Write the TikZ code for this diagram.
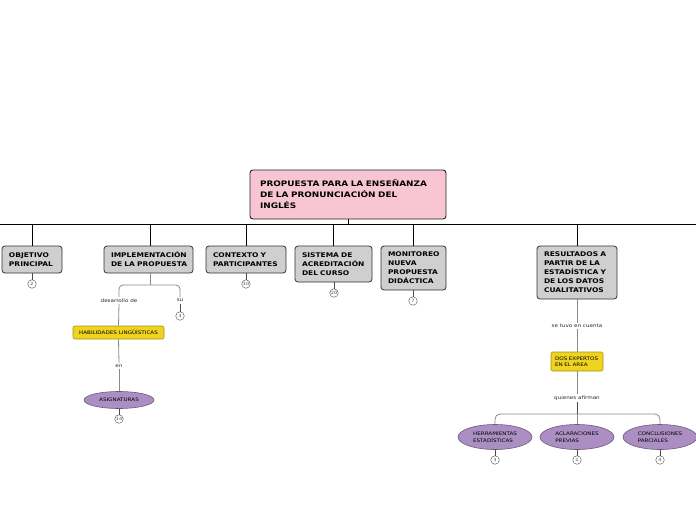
\documentclass[tikz,border=0pt]{standalone}
\usepackage{fontspec}
\newfontfamily\vb[FakeStretch=1.17]{DejaVu Sans}
\usetikzlibrary{shapes.geometric}
\hyphenpenalty=10000
\exhyphenpenalty=10000
\definecolor{pinkf}{HTML}{F8C6D3}
\definecolor{grayf}{HTML}{CFCFCF}
\definecolor{yelf}{HTML}{EED321}
\definecolor{yeld}{HTML}{A89410}
\definecolor{purf}{HTML}{AB8EC2}
\definecolor{purd}{HTML}{6E5A80}
\definecolor{lineg}{HTML}{8A8A8A}
\tikzset{
  rootbox/.style={draw=black!85, line width=0.9pt, fill=pinkf, rounded corners=3pt,
    minimum width=196pt, minimum height=49pt, text width=176pt, align=left,
    font=\vb\bfseries\fontsize{7.6}{11}\selectfont, inner sep=0pt},
  topbox/.style={draw=black!80, line width=0.8pt, fill=grayf, rounded corners=3pt,
    align=left, font=\vb\bfseries\fontsize{6.4}{9}\selectfont, inner sep=0pt},
  yelbox/.style={draw=yeld, line width=0.6pt, fill=yelf, rounded corners=2pt,
    align=left, font=\vb\fontsize{4.8}{6.5}\selectfont, inner sep=0pt},
  oval/.style={ellipse, draw=purd, line width=0.6pt, fill=purf, inner sep=0pt,
    align=left, font=\vb\fontsize{4.8}{6.5}\selectfont},
  cnt/.style={circle, draw=black!60, fill=white, line width=0.5pt, minimum size=8.5pt,
    inner sep=0pt, font=\vb\fontsize{4.3}{5}\selectfont, text=black!70},
  lab/.style={font=\vb\fontsize{4.8}{6}\selectfont, inner sep=1.5pt, text=black!85},
  bus/.style={draw=black, line width=0.8pt},
  gl/.style={draw=lineg, line width=0.8pt},
  dl/.style={draw=black!70, line width=0.6pt},
}
\begin{document}
\begin{tikzpicture}[x=1pt,y=-1pt]
\useasboundingbox[fill=white] (0,0) rectangle (696,520);
% root
\node[rootbox] (root) at (348,194.5) {PROPUESTA PARA LA ENSEÑANZA\\DE LA PRONUNCIACIÓN DEL\\INGLÉS};
\coordinate (busL) at (0,224);
\coordinate (busR) at (696,224);
\coordinate (busC) at (root.south |- busL);
\draw[bus] (busL) -- (busR);
\draw[bus] (root.south) -- (busC);
% top boxes
\node[topbox, minimum width=60pt, minimum height=27pt, text width=46pt] (obj) at (32,259.5) {OBJETIVO\\PRINCIPAL};
\node[topbox, minimum width=89pt, minimum height=27pt, text width=75pt] (impl) at (148.5,259.5) {IMPLEMENTACIÓN\\DE~LA~PROPUESTA};
\node[topbox, minimum width=80pt, minimum height=27pt, text width=66pt] (ctx) at (246,259.5) {CONTEXTO Y\\PARTICIPANTES};
\node[topbox, minimum width=77pt, minimum height=36pt, text width=63pt] (sis) at (333.5,264) {SISTEMA DE\\ACREDITACIÓN\\DEL CURSO};
\node[topbox, minimum width=65pt, minimum height=44pt, text width=51pt] (mon) at (413.5,268) {MONITOREO\\NUEVA\\PROPUESTA\\DIDÁCTICA};
\node[topbox, minimum width=80pt, minimum height=53pt, text width=66pt] (res) at (577,272.5) {RESULTADOS A\\PARTIR DE LA\\ESTADÍSTICA Y\\DE LOS DATOS\\CUALITATIVOS};
\foreach \n in {obj,ctx,sis,mon,res}{
  \draw[bus] (\n.north |- busL) -- (\n.north);
}
\draw[bus] (150,224) -- (150,246);
% counters under top boxes
\node[cnt] (c_obj) at (32,284) {2};
\node[cnt] (c_ctx) at (246,284) {10};
\node[cnt] (c_sis) at (334,293) {20};
\node[cnt] (c_mon) at (413,301) {7};
\draw[dl] (obj.south) -- (c_obj.north);
\draw[dl] (ctx.south) -- (c_ctx.north);
\draw[dl] (sis.south -| c_sis) -- (c_sis.north);
\draw[dl] (mon.south -| c_mon) -- (c_mon.north);
% implementation branch
\coordinate (brk) at (150,285);
\node[lab] (des) at (119,300.5) {desarrollo de};
\node[lab] (su) at (180,300.5) {su};
\draw[gl] (150,273) -- (brk);
\draw[gl, rounded corners=4pt] (des.north) |- (brk) -| (su.north);
\node[cnt] (c_su) at (180,316) {3};
\draw[dl] (su.south) -- (c_su.north);
\node[yelbox, minimum width=91pt, minimum height=13pt, align=center] (hab) at (118.5,332.5) {HABILIDADES LINGÜÍSTICAS};
\draw[gl] (des.south) -- (hab.north);
\node[lab] (en) at (119,366) {en};
\draw[gl] (hab.south) -- (en.north);
\node[oval, minimum width=70pt, minimum height=17pt, align=center] (asi) at (119,400) {ASIGNATURAS};
\draw[gl] (en.south) -- (asi.north);
\node[cnt] (c_asi) at (119,419) {14};
\draw[dl] (asi.south) -- (c_asi.north);
% results branch
\node[lab] (tuvo) at (577,326) {se tuvo en cuenta};
\draw[gl] (res.south) -- (tuvo.north);
\node[yelbox, minimum width=52pt, minimum height=19pt, text width=44pt] (dos) at (577,361.5) {DOS EXPERTOS\\EN EL AREA};
\draw[gl] (tuvo.south) -- (dos.north);
\node[lab] (qui) at (577,398) {quienes afirman};
\draw[gl] (dos.south) -- (qui.north);
\coordinate (brk2) at (577,414);
\draw[dl] (qui.south) -- (brk2);
\node[oval, minimum width=74pt, minimum height=25pt] (her) at (495,437) {HERRAMIENTAS\\ESTADÍSTICAS};
\node[oval, minimum width=74pt, minimum height=25pt] (acl) at (577,437) {ACLARACIONES\\PREVIAS};
\node[oval, minimum width=74pt, minimum height=25pt] (con) at (660,437) {CONCLUSIONES\\PARCIALES};
\draw[gl, rounded corners=5pt] (her.north) |- (brk2) -| (con.north);
\draw[gl] (brk2) -- (acl.north);
\node[cnt] (c_her) at (495,460) {3};
\node[cnt] (c_acl) at (577,460) {2};
\node[cnt] (c_con) at (660,460) {4};
\draw[dl] (her.south) -- (c_her.north);
\draw[dl] (acl.south) -- (c_acl.north);
\draw[dl] (con.south) -- (c_con.north);
\end{tikzpicture}
\end{document}
